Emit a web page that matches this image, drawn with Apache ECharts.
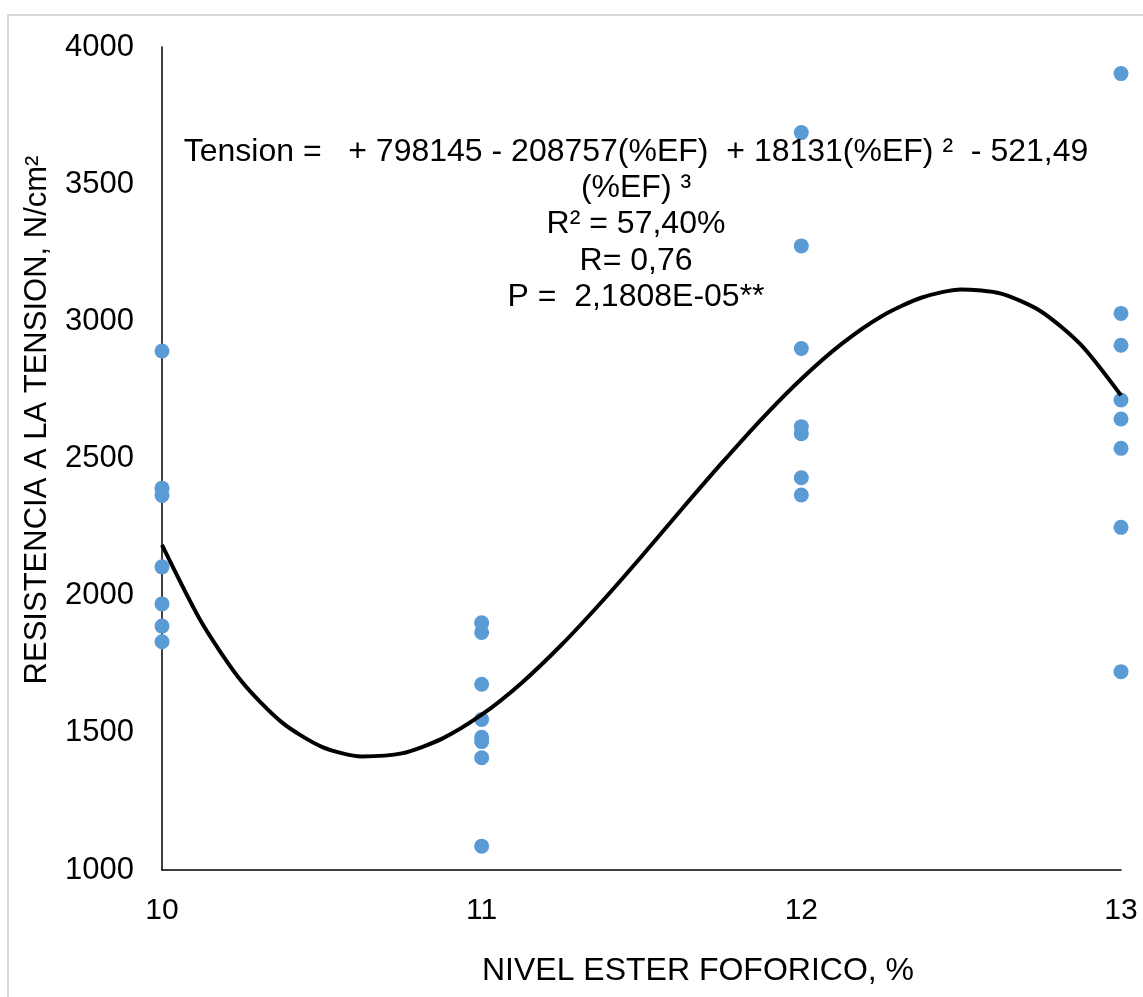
<!DOCTYPE html>
<html>
<head>
<meta charset="utf-8">
<script src="https://cdn.jsdelivr.net/npm/echarts@6/dist/echarts.min.js"></script>
<style>
  html, body { margin: 0; padding: 0; background: #fff; }
  #chart { width: 1143px; height: 997px; }
</style>
</head>
<body>
<div id="chart"></div>
<script>
var nivel10 = [2892, 2392, 2365, 2105, 1970, 1889, 1832];
var nivel11 = [1901, 1866, 1677, 1549, 1484, 1468, 1409, 1087];
var nivel12 = [3688, 3275, 2901, 2616, 2590, 2430, 2367];
var nivel13 = [3903, 3029, 2913, 2713, 2644, 2537, 2249, 1723];

// trend line, every 0.125 %
var trendX = [10, 10.125, 10.25, 10.375, 10.5, 10.625, 10.75, 10.875, 11,
              11.125, 11.25, 11.375, 11.5, 11.625, 11.75, 11.875, 12,
              12.125, 12.25, 12.375, 12.5, 12.625, 12.75, 12.875, 13];
var trendY = [2185, 1900, 1686, 1538, 1449, 1414, 1425, 1478, 1566,
              1682, 1821, 1977, 2143, 2314, 2482, 2643, 2790,
              2917, 3018, 3086, 3116, 3101, 3036, 2914, 2730];

var eqLines = [
    'Tension =   + 798145 - 208757(%EF)  + 18131(%EF) \u00b2  - 521,49',
    '(%EF) \u00b3',
    'R\u00b2 = 57,40%',
    'R= 0,76',
    'P =  2,1808E-05**'
];

var font = '"Liberation Sans", Arial, sans-serif';

var scatterData = [];
[[10, nivel10], [11, nivel11], [12, nivel12], [13, nivel13]].forEach(function (g) {
    g[1].forEach(function (v) {
        scatterData.push([g[0], v]);
    });
});

var trendData = [];
for (var i = 0; i < trendX.length; i++) {
    trendData.push([trendX[i], trendY[i]]);
}

var graphics = [{
    type: 'rect',
    shape: { x: 8, y: 15, width: 1300, height: 1200 },
    style: { fill: 'none', stroke: '#d9d9d9', lineWidth: 2 },
    silent: true
}, {
    type: 'text',
    x: 37, y: 420,
    rotation: Math.PI / 2,
    style: {
        text: 'RESISTENCIA A LA TENSION, N/cm\u00b2',
        font: '31px ' + font,
        fill: '#000',
        textAlign: 'center',
        textVerticalAlign: 'middle'
    }
}, {
    type: 'text',
    x: 698, y: 971,
    style: {
        text: 'NIVEL ESTER FOFORICO, %',
        font: '32px ' + font,
        fill: '#000',
        textAlign: 'center',
        textVerticalAlign: 'middle'
    }
}];

for (var j = 0; j < eqLines.length; j++) {
    graphics.push({
        type: 'text',
        x: 636, y: 152 + j * 36.3,
        z: 100,
        style: {
            text: eqLines[j],
            font: '32px ' + font,
            fill: '#000',
            textAlign: 'center',
            textVerticalAlign: 'middle'
        }
    });
}

var chart = echarts.init(document.getElementById('chart'));

chart.setOption({
    animation: false,
    backgroundColor: '#fff',
    grid: {
        left: 162,
        right: 22,
        top: 47,
        bottom: 127
    },
    xAxis: {
        type: 'value',
        min: 10,
        max: 13,
        interval: 1,
        axisLine: { lineStyle: { color: '#000', width: 1.5 } },
        axisTick: { show: false },
        splitLine: { show: false },
        axisLabel: {
            margin: 26,
            color: '#000',
            fontSize: 30,
            fontFamily: font
        }
    },
    yAxis: {
        type: 'value',
        min: 1000,
        max: 4000,
        interval: 500,
        axisLine: { show: true, lineStyle: { color: '#000', width: 1.5 } },
        axisTick: { show: false },
        splitLine: { show: false },
        axisLabel: {
            margin: 28,
            color: '#000',
            fontSize: 31,
            fontFamily: font,
            formatter: function (v) { return String(v); }
        }
    },
    series: [{
        name: 'Tension',
        type: 'scatter',
        symbol: 'circle',
        symbolSize: 15,
        data: scatterData,
        itemStyle: { color: '#5b9bd5', opacity: 1 },
        z: 2
    }, {
        name: 'Polinomica',
        type: 'line',
        smooth: 0.25,
        showSymbol: false,
        data: trendData,
        lineStyle: { color: '#000', width: 4 },
        z: 3
    }],
    graphic: graphics
});
</script>
</body>
</html>
